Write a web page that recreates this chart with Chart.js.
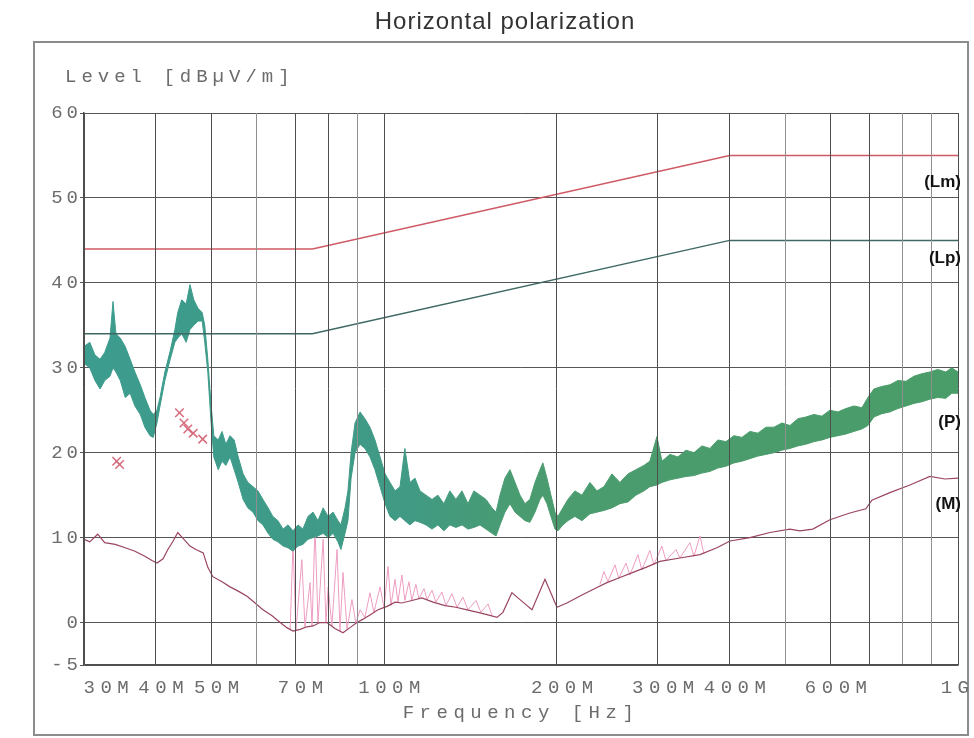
<!DOCTYPE html>
<html>
<head>
<meta charset="utf-8">
<title>Horizontal polarization</title>
<script src="https://cdn.jsdelivr.net/npm/chart.js@4.4.1/dist/chart.umd.min.js"></script>
<style>
  html, body { margin: 0; padding: 0; background: #fff; }
  #wrap { position: relative; width: 974px; height: 738px; overflow: hidden; }
  #title {
    position: absolute; top: 7px; left: 505px; transform: translateX(-50%);
    font: 24px "Liberation Sans", Arial, sans-serif; letter-spacing: 1px;
    color: #333; white-space: nowrap;
  }
  canvas { position: absolute; left: 0; top: 0; }
</style>
</head>
<body>
<div id="wrap">
  <canvas id="chart" width="974" height="738"></canvas>
  <div id="title">Horizontal polarization</div>
</div>
<script>
// ---- data (frequency in MHz, level in dBµV/m) ----

// limit lines
const limitFreq = [30, 75, 400, 1000];
const lmLevel = [44, 44, 55, 55];
const lpLevel = [34, 34, 45, 45];

// peak trace (P), upper and lower edge of the noisy band
const pFreq = [30.0, 30.7, 31.35, 32.0, 32.6, 33.3, 33.7, 34.1, 34.7, 35.4, 36.1, 36.8, 37.6, 38.3, 39.1, 39.6,
  40.2, 40.7, 41.5, 42.4, 43.2, 43.7, 44.4, 45.2, 45.9, 46.6, 47.4, 48.2, 48.7, 49.3, 49.9, 50.5, 51.4, 52.2,
  53.0, 53.9, 54.8, 55.7, 56.8, 57.9, 59.1, 60.3, 61.5, 62.8, 64.0, 65.3, 66.7, 68.0, 69.4, 70.8, 72.2, 73.7,
  75.2, 76.7, 78.3, 79.9, 81.5, 83.1, 84.1, 85.5, 86.5, 87.6, 89.0, 90.8, 92.6, 94.5, 96.4, 98.4, 100.4, 102.4,
  104.5, 106.6, 108.7, 110.9, 113.2, 115.5, 118.3, 121.2, 124.1, 127.1, 130.2, 133.4, 136.7, 140.0, 143.4,
  146.9, 150.5, 154.2, 156.7, 159.2, 162.4, 165.7, 169.1, 172.5, 176.0, 179.5, 183.2, 186.9, 189.1, 192.2,
  195.3, 198.5, 200.9, 204.9, 209.1, 215.0, 221.2, 228.4, 234.9, 241.6, 249.4, 257.6, 266.0, 274.6, 283.6,
  290.5, 298.8, 304.9, 314.8, 325.1, 335.7, 346.6, 357.9, 369.6, 381.6, 394.1, 407.0, 420.2, 433.9, 448.1,
  462.7, 477.8, 493.4, 509.5, 526.1, 543.2, 560.9, 579.2, 598.1, 617.7, 637.8, 658.6, 680.1, 696.7, 713.6,
  736.9, 760.9, 785.7, 811.4, 837.8, 865.1, 893.2, 922.1, 952.3, 975.4, 1000];
const pHigh = [32.5, 33.0, 31.5, 31.0, 31.8, 33.5, 37.8, 34.0, 33.5, 32.5, 31.0, 29.5, 28.0, 26.5, 25.0, 24.5,
  25.0, 26.5, 29.5, 32.0, 34.5, 36.5, 38.0, 37.5, 39.8, 38.0, 37.0, 36.5, 35.0, 31.0, 26.0, 22.0, 21.5, 22.5,
  21.0, 22.0, 21.5, 19.5, 17.5, 16.5, 16.0, 15.5, 14.5, 13.5, 12.5, 12.0, 11.0, 11.5, 10.8, 11.5, 11.0, 12.5,
  13.0, 12.0, 13.5, 12.5, 13.0, 12.0, 11.5, 13.5, 15.5, 20.0, 23.5, 24.8, 24.0, 23.0, 21.5, 19.5, 17.5, 16.5,
  15.5, 16.0, 20.5, 16.5, 17.0, 15.5, 15.0, 14.5, 15.0, 14.0, 15.5, 14.5, 15.5, 14.0, 15.5,
  15.0, 14.5, 13.5, 13.0, 15.0, 17.0, 18.0, 16.5, 15.0, 14.0, 14.5, 16.5, 18.0, 18.8, 17.0,
  15.0, 13.0, 12.5, 13.5, 14.5, 15.5, 15.0, 16.5, 15.5, 16.0, 17.5, 16.5, 17.5, 18.0, 18.5,
  19.0, 21.9, 19.0, 19.8, 19.5, 20.3, 20.0, 20.8, 20.5, 21.5, 21.3, 22.0, 21.8, 22.5, 22.3,
  23.0, 23.0, 23.5, 23.2, 24.0, 24.2, 24.5, 24.3, 25.0, 24.8, 25.2, 25.5, 25.3, 26.5, 27.5,
  27.8, 28.0, 28.5, 28.4, 29.0, 29.3, 29.5, 29.8, 29.5, 30.0, 29.5];
const pLow = [30.5, 30.0, 28.5, 27.5, 28.5, 29.0, 30.0, 29.5, 28.5, 26.5, 27.0, 25.5, 24.5, 23.0, 22.0, 21.8,
  23.5, 25.5, 28.5, 31.0, 33.0, 33.5, 34.0, 33.0, 34.5, 35.0, 35.5, 35.5, 33.0, 29.5, 24.0, 19.5, 18.0, 19.0,
  18.5, 19.5, 18.0, 16.5, 14.5, 13.5, 13.0, 12.0, 11.5, 10.5, 9.8, 9.5, 9.0, 8.8, 8.4, 9.0, 9.2, 9.8,
  10.0, 10.2, 10.5, 10.0, 10.5, 9.5, 8.6, 10.5, 12.0, 17.0, 20.0, 21.0, 20.5, 19.5, 18.0, 16.0, 14.0, 12.5,
  12.0, 12.5, 12.0, 11.5, 12.0, 11.8, 11.5, 11.0, 11.5, 10.8, 11.5, 11.2, 11.5, 11.0, 11.2,
  11.5, 11.0, 10.5, 10.2, 11.5, 13.0, 14.0, 13.0, 12.5, 12.0, 11.8, 13.0, 14.5, 15.0, 14.0,
  12.5, 11.0, 10.8, 11.5, 12.0, 12.5, 12.0, 12.8, 13.0, 13.2, 13.5, 14.0, 14.2, 15.0, 15.5,
  16.0, 16.2, 16.5, 16.8, 17.0, 17.2, 17.3, 17.6, 17.8, 18.2, 18.4, 18.8, 19.0, 19.3, 19.6,
  19.8, 20.0, 20.3, 20.5, 20.8, 21.0, 21.3, 21.5, 21.8, 22.0, 22.2, 22.5, 22.8, 23.2, 24.2,
  24.6, 24.8, 25.2, 25.5, 25.8, 26.0, 26.3, 26.5, 26.4, 27.0, 27.0];

// average trace (M)
const mFreq = [30.0, 30.7, 31.7, 32.6, 34.0, 35.4, 36.8, 38.3, 39.4, 40.2, 41.2, 42.0, 42.9, 43.7, 44.8, 45.9,
  47.0, 48.4, 49.3, 50.3, 52.2, 53.9, 55.7, 57.7, 59.6, 61.5, 63.8, 65.9, 67.7, 69.4, 71.4, 73.4, 75.2, 77.3,
  79.5, 82.1, 84.8, 87.2, 89.7, 91.9, 94.5, 97.6, 101.2, 104.5, 107.4, 111.8, 116.4, 121.7, 127.7, 133.4,
  139.5, 145.7, 151.7, 157.3, 161.1, 167.0, 171.1, 176.0, 181.0, 190.7, 200.1, 208.2, 222.1, 233.0, 244.5,
  257.6, 271.5, 285.9, 302.4, 327.7, 355.1, 380.1, 400.6, 433.9, 470.2, 509.5, 530.3, 558.6, 598.1, 648.2,
  690.9, 707.9, 760.9, 824.5, 893.2, 948.7, 1000];
const mLevel = [9.8, 9.5, 10.4, 9.4, 9.2, 8.8, 8.4, 7.8, 7.3, 7.0, 7.5, 8.6, 9.6, 10.6, 9.8, 9.0,
  8.6, 8.2, 6.5, 5.4, 4.8, 4.2, 3.7, 3.1, 2.3, 1.5, 0.8, 0.0, -0.6, -1.0, -0.8, -0.5, -0.4, 0.0,
  0.0, -0.7, -1.2, -0.6, 0.0, 0.4, 0.9, 1.5, 1.9, 2.4, 2.3, 2.6, 2.9, 2.4, 2.0, 1.8,
  1.5, 1.2, 0.9, 0.6, 1.2, 3.5, 2.9, 2.2, 1.5, 5.1, 1.8, 2.3, 3.3, 4.0, 4.7,
  5.3, 5.9, 6.5, 7.2, 7.6, 8.0, 8.8, 9.6, 10.0, 10.6, 11.0, 10.8, 11.0, 12.1, 12.9,
  13.4, 14.4, 15.3, 16.2, 17.2, 16.9, 17.0];

// pink spikes on top of the average trace (null = gap)
const spikeFreq = [68.6, 69.4, 70.2, 71.9, 72.8, 74.3, 74.9, 75.8, 76.7, 78.3, 79.2, 79.9, 81.1, 82.8, 83.8,
  84.8, 86.2, 87.9, 89.3, 90.8, 92.6, 94.5, 96.0, 98.4, 100.0, 101.6, 102.8, 104.5, 105.7, 107.4, 108.7,
  110.5, 111.8, 113.6, 115.0, 117.4, 118.8, 121.2, 123.1, 126.1, 128.2, 131.3, 134.0, 137.2, 140.0, 144.6,
  147.5, 151.7, 154.2, 200, 237.7, 241.6, 245.5, 252.5, 256.5, 263.9, 268.1, 276.9, 281.3, 290.5, 295.2,
  304.9, 309.8, 322.5, 327.7, 341.1, 346.6, 355.1, 360.8];
const spikeLevel = [-0.8, 9.4, -1.0, 7.4, -0.6, 4.7, -0.4, 11.3, 0.0, 9.8, 0.0, 4.2, -0.4, 8.6, -1.0,
  5.9, -0.8, 2.7, -0.1, 1.5, 0.6, 3.5, 1.2, 4.2, 1.7, 6.6, 2.0, 5.1, 2.4, 5.6, 2.6,
  4.8, 2.6, 4.5, 2.8, 4.0, 2.7, 3.8, 2.4, 3.6, 2.0, 3.4, 1.8, 3.0, 1.5, 2.6,
  1.2, 2.2, 0.8, null, 4.5, 6.0, 4.8, 6.8, 5.2, 7.0, 5.6, 8.0, 6.2, 8.5, 6.8,
  9.0, 7.3, 8.6, 7.6, 9.4, 7.8, 10.2, 8.1];

// final measurement markers
const markFreq = [34.2, 34.6, 44.0, 44.8, 45.5, 46.5, 48.3];
const markLevel = [19.0, 18.6, 24.7, 23.5, 22.8, 22.3, 21.6];

// axes
const xTicks = [30, 40, 50, 60, 70, 80, 90, 100, 200, 300, 400, 500, 600, 700, 800, 900, 1000];
const xTickLabels = ['30M', '40M', '50M', '', '70M', '', '', '100M', '200M', '300M', '400M', '', '600M', '', '', '', '1G'];
const yTicks = [-5, 0, 10, 20, 30, 40, 50, 60];

// trace tags on the right edge
const tagNames = ['(Lm)', '(Lp)', '(P)', '(M)'];
const tagLevels = [51.8, 42.9, 23.6, 13.9];

// ---------------------------------------------------------------------
const MONO = "'Liberation Mono', 'DejaVu Sans Mono', monospace";
const TXT = '#6c6c6c';
const xy = (xs, ys) => xs.map((x, i) => ({ x: x, y: ys[i] }));
const darkX = [30, 40, 50, 70, 80, 100, 200, 300, 400, 600, 700, 1000];

let pGrad = null;
function pColor(c) {
  const a = c.chart.chartArea;
  if (!a) return '#469c78';
  if (!pGrad) {
    pGrad = c.chart.ctx.createLinearGradient(a.left, 0, a.right, 0);
    pGrad.addColorStop(0, '#3c9c8e');
    pGrad.addColorStop(0.37, '#409a84');
    pGrad.addColorStop(0.5, '#4a9c70');
    pGrad.addColorStop(1, '#4a9c68');
  }
  return pGrad;
}

const framePlugin = {
  id: 'frame',
  beforeDraw(chart) {
    const ctx = chart.ctx;
    ctx.save();
    ctx.strokeStyle = '#8c8c8c';
    ctx.lineWidth = 2;
    ctx.strokeRect(34, 42, 934, 693);
    ctx.restore();
    ctx.letterSpacing = '4px';      // y tick labels
  },
  beforeDatasetsDraw(chart) { chart.ctx.letterSpacing = '0px'; },
  afterDatasetsDraw(chart) { chart.ctx.letterSpacing = '5.5px'; },  // x labels + axis title
  afterDraw(chart) {
    const ctx = chart.ctx;
    const ys = chart.scales.y;
    ctx.save();
    ctx.letterSpacing = '5px';
    ctx.fillStyle = TXT;
    ctx.font = '19px ' + MONO;
    ctx.textAlign = 'left';
    ctx.textBaseline = 'alphabetic';
    ctx.fillText('Level [dBµV/m]', 65, 82);
    ctx.letterSpacing = '0px';
    ctx.fillStyle = '#111';
    ctx.font = "bold 17px 'Liberation Sans', Arial, sans-serif";
    ctx.textAlign = 'right';
    ctx.textBaseline = 'middle';
    tagNames.forEach((t, i) => {
      ctx.fillText(t, chart.chartArea.right + 3, ys.getPixelForValue(tagLevels[i]));
    });
    ctx.restore();
    ctx.letterSpacing = '0px';
  }
};

new Chart(document.getElementById('chart'), {
  type: 'scatter',
  data: {
    datasets: [
      { label: 'Final', data: xy(markFreq, markLevel), showLine: false, pointStyle: 'crossRot',
        pointRadius: 6, borderColor: '#d66b7c', borderWidth: 1.5, order: 0 },
      { label: 'Lm', data: xy(limitFreq, lmLevel), showLine: true, borderColor: '#cf5a66',
        borderWidth: 1.5, pointRadius: 0, order: 1 },
      { label: 'Lp', data: xy(limitFreq, lpLevel), showLine: true, borderColor: '#3e6863',
        borderWidth: 1.5, pointRadius: 0, order: 1 },
      { label: 'P max', data: xy(pFreq, pHigh), showLine: true, borderColor: pColor,
        borderWidth: 1, pointRadius: 0, order: 2 },
      { label: 'P min', data: xy(pFreq, pLow), showLine: true, borderColor: pColor,
        borderWidth: 1, pointRadius: 0, fill: '-1', backgroundColor: pColor, order: 3 },
      { label: 'M', data: xy(mFreq, mLevel), showLine: true, borderColor: '#9a4560',
        borderWidth: 1.2, pointRadius: 0, order: 4 },
      { label: 'M spikes', data: xy(spikeFreq, spikeLevel), showLine: true, borderColor: '#ee9dc2',
        borderWidth: 1, pointRadius: 0, spanGaps: false, order: 5 }
    ]
  },
  options: {
    responsive: false,
    devicePixelRatio: 1,
    animation: false,
    layout: { padding: { left: 34, right: 16, top: 113, bottom: 13 } },
    plugins: {
      legend: { display: false },
      tooltip: { enabled: false }
    },
    scales: {
      x: {
        type: 'logarithmic',
        min: 30,
        max: 1000,
        afterBuildTicks: s => { s.ticks = xTicks.map(v => ({ value: v })); },
        afterFit: s => { s.height = 60; s.paddingLeft = 0; s.paddingRight = 0; },
        grid: {
          z: 1,
          drawTicks: false,
          lineWidth: 1,
          color: c => (c.tick && darkX.includes(c.tick.value)) ? '#4e4e4e' : '#8f8f8f'
        },
        border: { z: 1, color: '#4e4e4e', width: 1.5 },
        ticks: {
          z: 1,
          autoSkip: false,
          maxRotation: 0,
          padding: 12,
          labelOffset: 8,
          color: TXT,
          font: { family: MONO, size: 19 },
          callback: (v) => {
            const i = xTicks.indexOf(v);
            if (i < 0) return '';
            if (i === 0) return '  ' + xTickLabels[i];
            if (i === xTicks.length - 1) return xTickLabels[i] + ' ';
            return xTickLabels[i];
          }
        },
        title: {
          display: true,
          text: 'Frequency [Hz]',
          color: TXT,
          font: { family: MONO, size: 19 },
          padding: { top: 0, bottom: 1 }
        }
      },
      y: {
        min: -5,
        max: 60,
        afterBuildTicks: s => { s.ticks = yTicks.map(v => ({ value: v })); },
        afterFit: s => { s.width = 50; s.paddingTop = 0; s.paddingBottom = 0; },
        grid: { color: '#555', lineWidth: 1, drawTicks: true, tickLength: 4 },
        border: { color: '#4e4e4e', width: 1.5 },
        ticks: { padding: -2, color: TXT, font: { family: MONO, size: 19 } }
      }
    }
  },
  plugins: [framePlugin]
});
</script>
</body>
</html>
